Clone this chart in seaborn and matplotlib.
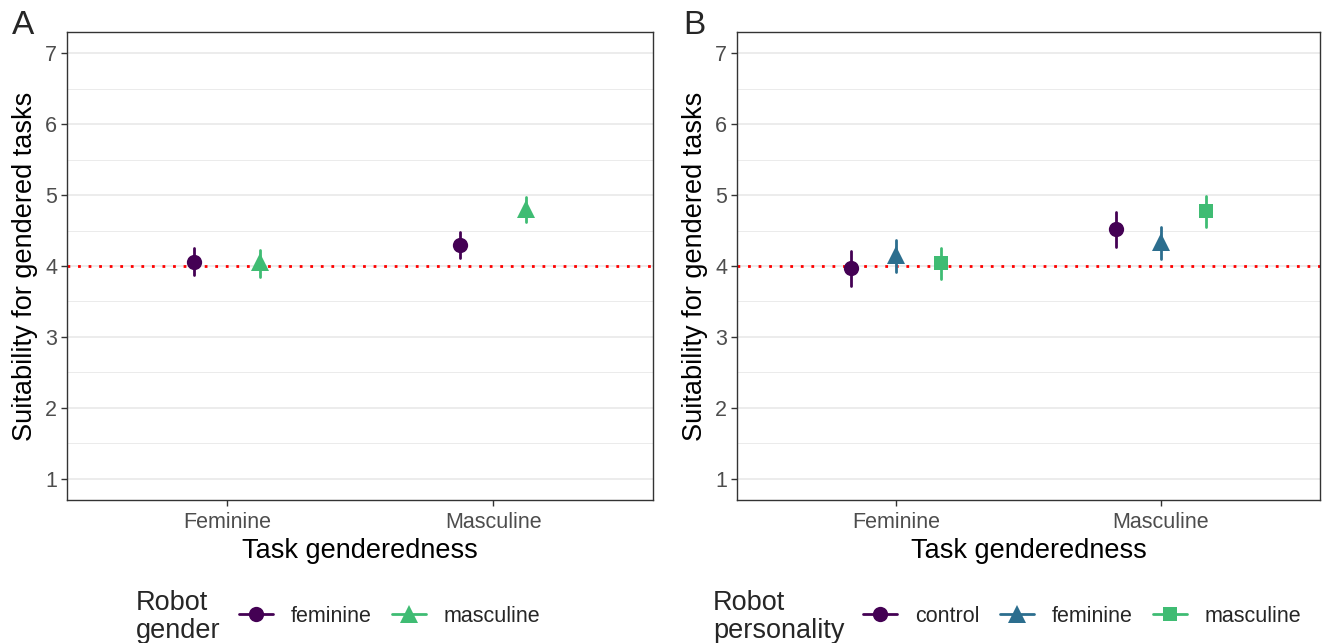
import numpy as np
import pandas as pd
import seaborn as sns
import matplotlib.pyplot as plt
from matplotlib.lines import Line2D
from matplotlib.ticker import MultipleLocator

# ---- data ----
tasks = ["Feminine", "Masculine"]

genders = ["feminine", "masculine"]
a_mean = {"feminine": [4.06, 4.30], "masculine": [4.05, 4.80]}
a_lo = {"feminine": [3.87, 4.11], "masculine": [3.85, 4.62]}
a_hi = {"feminine": [4.25, 4.48], "masculine": [4.22, 4.97]}

personalities = ["control", "feminine", "masculine"]
b_mean = {"control": [3.97, 4.52], "feminine": [4.16, 4.34], "masculine": [4.04, 4.77]}
b_lo = {"control": [3.72, 4.27], "feminine": [3.91, 4.10], "masculine": [3.82, 4.55]}
b_hi = {"control": [4.21, 4.76], "feminine": [4.37, 4.55], "masculine": [4.25, 4.99]}

y_ticks = [1, 2, 3, 4, 5, 6, 7]
ref_line = 4

colors_a = ["#440154", "#3FBC73"]
colors_b = ["#440154", "#2C6E8E", "#3FBC73"]
markers_a = ["o", "^"]
markers_b = ["o", "^", "s"]


def long_frame(groups, mean, lo, hi, gname):
    rows = []
    for g in groups:
        for i, t in enumerate(tasks):
            for v in (lo[g][i], mean[g][i], hi[g][i]):
                rows.append({"task": t, gname: g, "value": v})
    return pd.DataFrame(rows)


df_a = long_frame(genders, a_mean, a_lo, a_hi, "gender")
df_b = long_frame(personalities, b_mean, b_lo, b_hi, "personality")

sns.set_theme(style="white")
plt.rcParams["font.family"] = ["Liberation Sans", "DejaVu Sans"]

fig = plt.figure(figsize=(13.23, 6.43), dpi=100)
ax_a = fig.add_axes([67 / 1323, 143 / 643, 586 / 1323, 468 / 643])
ax_b = fig.add_axes([737 / 1323, 143 / 643, 583 / 1323, 468 / 643])

msize = {"o": 11, "^": 13.5, "s": 10.5}

TICK_FS = 15.5
TITLE_FS = 19.5
LEG_FS = 15.5


def draw(ax, df, hue, order, colors, markers, dodge):
    sns.pointplot(data=df, x="task", y="value", hue=hue, hue_order=order,
                  order=tasks, estimator="median",
                  errorbar=lambda v: (v.min(), v.max()),
                  palette=colors, markers=markers, linestyles="none",
                  dodge=dodge, err_kws={"linewidth": 2.0}, ax=ax,
                  legend=False)
    for ln in ax.lines:
        m = ln.get_marker()
        if m in msize:
            ln.set_markersize(msize[m])
            ln.set_markeredgewidth(0)
    ax.axhline(ref_line, color="red", linestyle=(0, (1, 2.8)), linewidth=2.0, zorder=1)
    ax.set_xlim(-0.6, 1.6)
    ax.set_ylim(0.7, 7.3)
    ax.set_yticks(y_ticks)
    ax.yaxis.set_minor_locator(MultipleLocator(0.5))
    ax.grid(False)
    ax.grid(axis="y", which="major", color="#EBEBEB", linewidth=1.3, zorder=0)
    ax.grid(axis="y", which="minor", color="#EBEBEB", linewidth=0.7, zorder=0)
    ax.set_axisbelow(True)
    for s in ax.spines.values():
        s.set_color("#333333")
        s.set_linewidth(1.0)
    ax.tick_params(axis="both", which="major", direction="out", length=4, width=1.0,
                   color="#333333", labelcolor="#4D4D4D", labelsize=TICK_FS, pad=3,
                   bottom=True, left=True)
    ax.tick_params(axis="x", which="major", pad=5)
    ax.tick_params(axis="y", which="minor", length=0)
    ax.set_xlabel("Task genderedness", fontsize=TITLE_FS, color="black", labelpad=3)
    ax.set_ylabel("Suitability for gendered tasks", fontsize=TITLE_FS, color="black",
                  labelpad=5)


draw(ax_a, df_a, "gender", genders, colors_a, markers_a, 0.25)
draw(ax_b, df_b, "personality", personalities, colors_b, markers_b, 0.34)

fig.text(12 / 1323, 1 - 25 / 643, "A", fontsize=24, ha="left", va="center")
fig.text(683 / 1323, 1 - 25 / 643, "B", fontsize=24, ha="left", va="center")


def legend(title, x_title, x_leg, labels, colors, markers):
    fig.text(x_title / 1323, 1 - 617 / 643, title, fontsize=TITLE_FS, ha="left",
             va="center", linespacing=1.05)
    handles = [Line2D([0], [0], color=c, marker=m, linewidth=2.0,
                      markersize=msize[m], markeredgewidth=0)
               for c, m in zip(colors, markers)]
    fig.legend(handles, labels, loc="center left",
               bbox_to_anchor=(x_leg / 1323, 1 - 616 / 643), ncol=len(labels),
               frameon=False, fontsize=LEG_FS, handlelength=1.6, handletextpad=0.8,
               columnspacing=0.95, borderaxespad=0, borderpad=0)


legend("Robot\ngender", 136, 239, genders, colors_a, markers_a)
legend("Robot\npersonality", 713, 863, personalities, colors_b, markers_b)

fig.savefig("out.png", dpi=100)
